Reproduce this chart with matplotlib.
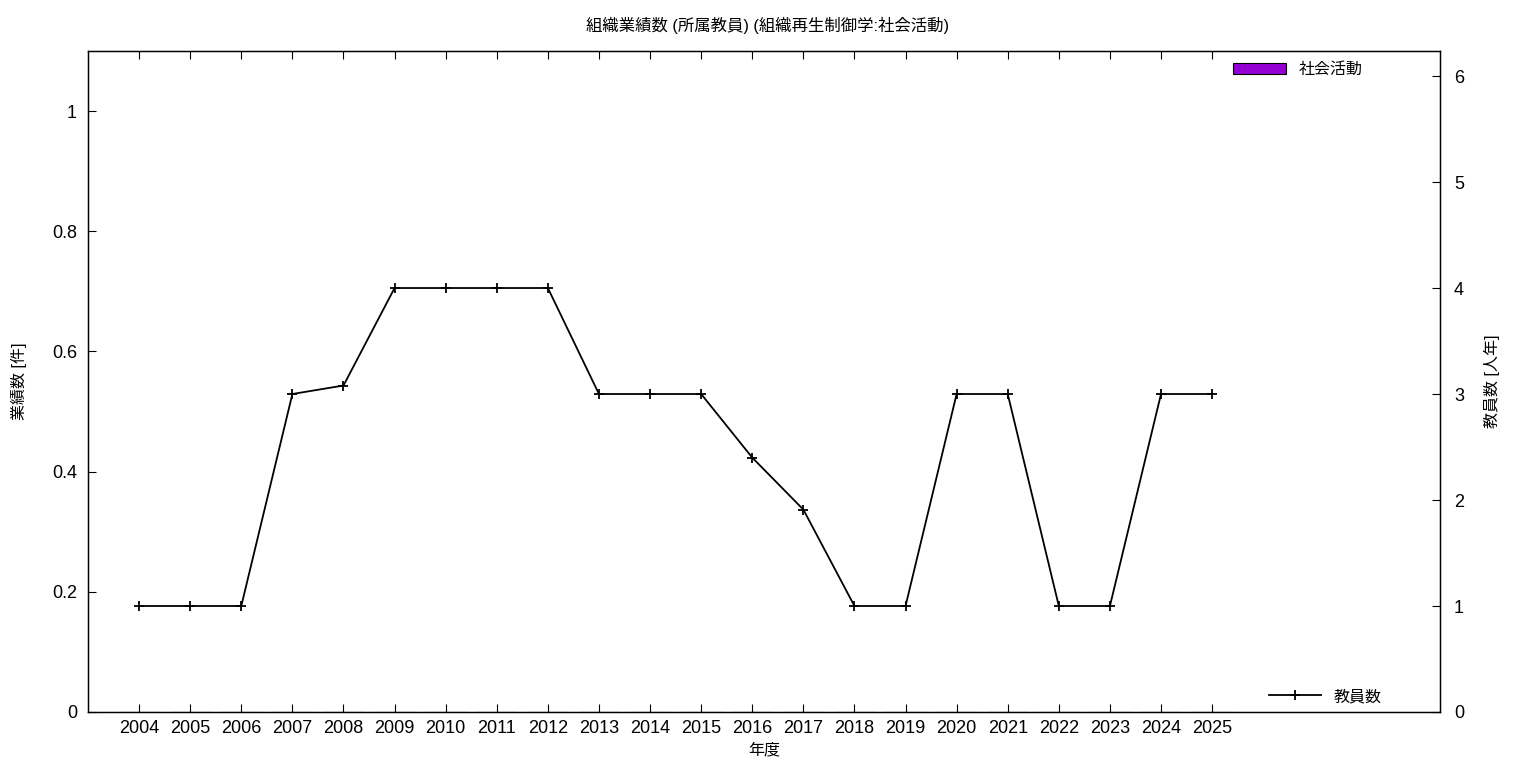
import matplotlib
matplotlib.use("Agg")
import matplotlib.pyplot as plt
import numpy as np

plt.rcParams['font.family'] = ['Liberation Sans', 'Noto Sans CJK JP', 'DejaVu Sans']

years = [2004, 2005, 2006, 2007, 2008, 2009, 2010, 2011, 2012, 2013, 2014,
         2015, 2016, 2017, 2018, 2019, 2020, 2021, 2022, 2023, 2024, 2025]
activity = [0] * 22  # 社会活動 (件)
staff = [1, 1, 1, 3, 3.08, 4, 4, 4, 4, 3, 3, 3, 2.4, 1.91, 1, 1, 3, 3, 1, 1, 3, 3]

W, H = 1536, 768
fig = plt.figure(figsize=(W / 100, H / 100), dpi=100)
ax = fig.add_axes([88 / W, 56 / H, (1440 - 88) / W, (712 - 51) / H])
x = np.arange(len(years))
ax.bar(x, activity, width=0.8, color='#9400d3', edgecolor='black', linewidth=0.8, label='社会活動')
ax.set_xlim(-1, 25.46)
ax.set_ylim(0, 1.1)
ax.set_yticks([0, 0.2, 0.4, 0.6, 0.8, 1.0])
ax.set_yticklabels(['0', '0.2', '0.4', '0.6', '0.8', '1'])
ax.set_xticks(x)
ax.set_xticklabels([str(y) for y in years])
ax.tick_params(axis='x', direction='in', top=True, length=6, labelsize=13, pad=6)
ax.tick_params(axis='y', direction='in', length=6, labelsize=13, pad=8)
ax.set_xlabel('年度', fontsize=11.5, labelpad=4)
ax.set_ylabel('業績数 [件]', fontsize=11.5, labelpad=18)
for s in ax.spines.values():
    s.set_linewidth(1.0)

ax2 = ax.twinx()
ax2.plot(x, staff, color='black', linewidth=1.3, marker='+', markersize=6.5,
         markeredgewidth=1.3, label='教員数')
ax2.set_ylim(0, 6.236)
ax2.set_yticks(range(7))
ax2.tick_params(axis='y', direction='in', length=6, labelsize=13, pad=10)
ax2.set_ylabel('教員数 [人年]', fontsize=11.5, labelpad=14)

leg1 = ax.legend(loc='upper right', frameon=False, fontsize=11.5, handlelength=3.3,
                 handleheight=0.6, bbox_to_anchor=(0.951, 1.0), borderaxespad=0.3)
leg2 = ax2.legend(loc='lower right', frameon=False, fontsize=11.5, handlelength=3.3,
                  bbox_to_anchor=(0.963, 0.0), borderaxespad=0.1)

fig.suptitle('組織業績数 (所属教員) (組織再生制御学:社会活動)', fontsize=11.8, y=0.978)
fig.savefig('out.png', dpi=100)
